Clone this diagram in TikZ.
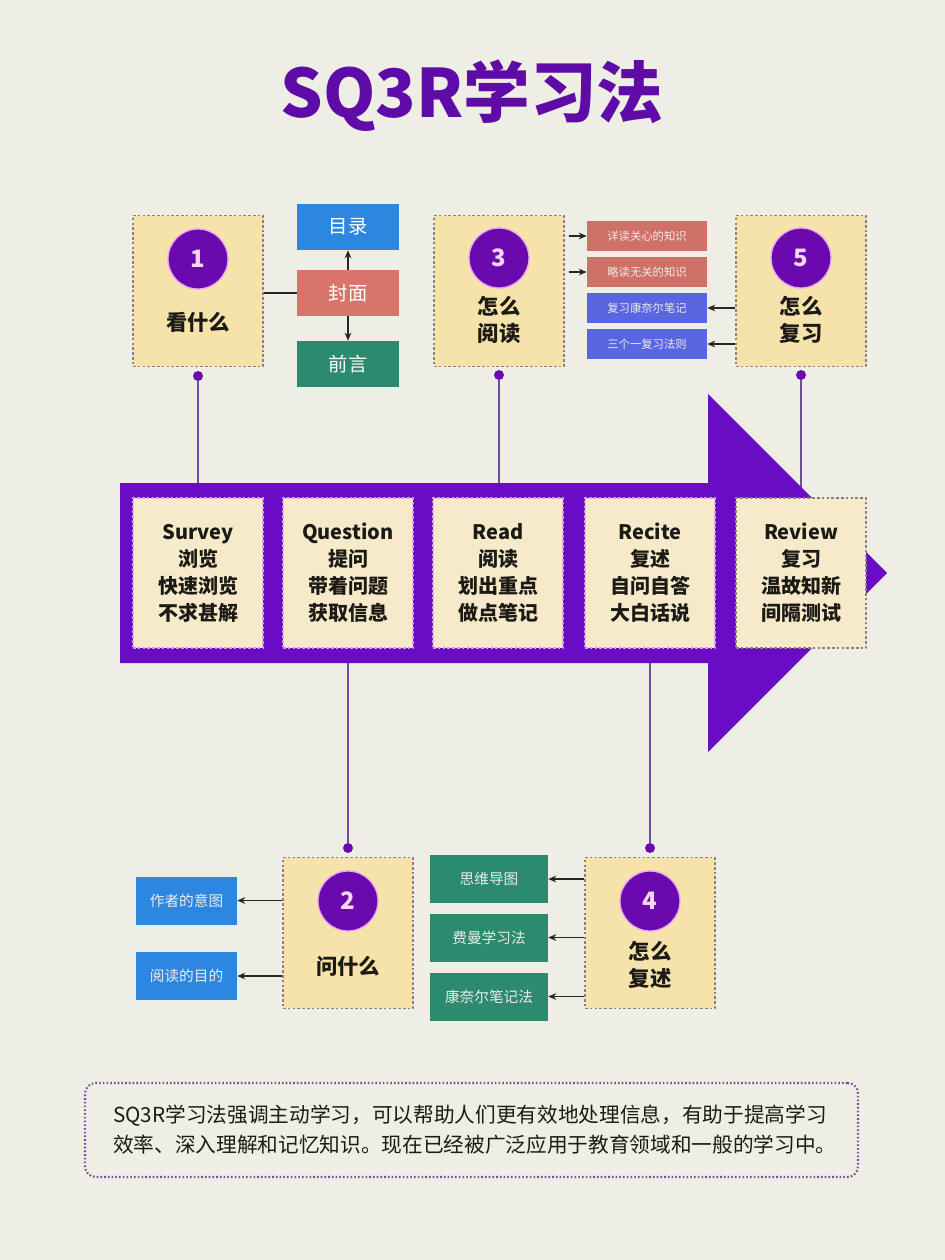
\documentclass[tikz,border=0pt]{standalone}
\usepackage{fontspec}
\setmainfont{Noto Sans CJK SC}
\usetikzlibrary{arrows.meta}
\definecolor{bg}{HTML}{EEEEE4}
\definecolor{titlepurple}{HTML}{5E0BA8}
\definecolor{arrowpurple}{HTML}{6A0BC6}
\definecolor{circpurple}{HTML}{6A0AAE}
\definecolor{boxyellow}{HTML}{F5E3AA}
\definecolor{boxcream}{HTML}{F6EACB}
\definecolor{dashgray}{HTML}{8C7F86}
\definecolor{dashpink}{HTML}{D39BE8}
\definecolor{sideblue}{HTML}{2D86DF}
\definecolor{sidered}{HTML}{D8746B}
\definecolor{sidegreen}{HTML}{2C8A6E}
\definecolor{smallred}{HTML}{CF7167}
\definecolor{smallblue}{HTML}{5A66E0}
\definecolor{linepurple}{HTML}{6E4F9E}
\definecolor{txt}{HTML}{1C1A14}
\definecolor{numtxt}{HTML}{F6D6F6}
\definecolor{circring}{HTML}{E9A6F0}
\definecolor{footline}{HTML}{6F4FA6}
\begin{document}
\begin{tikzpicture}[x=0.75pt,y=-0.75pt,
  topbox/.style={draw=dashgray, line width=1.1pt, dash pattern=on 2pt off 1.6pt, fill=boxyellow, minimum width=97.5pt, minimum height=113pt, inner sep=0pt},
  stepbox/.style={draw=dashpink, line width=1.1pt, dash pattern=on 2pt off 1.6pt, fill=boxcream, minimum width=97.5pt, minimum height=112.5pt, inner sep=0pt, align=center, text=txt, font=\bfseries\fontsize{15}{20.3}\selectfont},
  numcirc/.style={circle, fill=circpurple, draw=circring, line width=1pt, minimum size=45pt, inner sep=0pt, text=numtxt, font=\bfseries\fontsize{18}{18}\selectfont},
  lbl/.style={align=center, text=txt, inner sep=0pt, font=\bfseries\fontsize{16}{20.5}\selectfont},
  sidebox/.style={minimum width=76.5pt, minimum height=34.5pt, inner sep=0pt, text=white, font=\fontsize{14.5}{14.5}\selectfont},
  smallbox/.style={minimum width=90pt, minimum height=22.5pt, inner sep=0pt, text=white!92!black, font=\fontsize{8.5}{8.5}\selectfont},
  bluebox/.style={fill=sideblue, minimum width=75.75pt, minimum height=36pt, inner sep=0pt, text=white!92!black, font=\fontsize{11}{11}\selectfont},
  greenbox/.style={fill=sidegreen, minimum width=88.5pt, minimum height=36pt, inner sep=0pt, text=white!92!black, font=\fontsize{11}{11}\selectfont},
  dot/.style={circle, fill=circpurple, minimum size=7.5pt, inner sep=0pt},
  conn/.style={draw=linepurple, line width=1.3pt},
  blk/.style={draw=black!85, line width=1.2pt, -{Stealth[length=6pt,width=5pt]}},
]
% background
\fill[bg] (0,0) rectangle (945,1260);
\useasboundingbox (0,0) rectangle (945,1260);

% title
\node[text=titlepurple, font=\bfseries\fontsize{50}{50}\selectfont, inner sep=0pt] (title) at (472,96) {SQ3R学习法};

% connector dots
\node[dot] (d1) at (198,376) {};
\node[dot] (d3) at (499,375) {};
\node[dot] (d5) at (801,375) {};
\node[dot] (d2) at (348,848) {};
\node[dot] (d4) at (650,848) {};
\coordinate (a1) at (198,490);
\coordinate (a3) at (499,490);
\coordinate (a5) at (801,495);
\coordinate (a2) at (348,655);
\coordinate (a4) at (650,655);
\draw[conn] (d1) -- (a1);
\draw[conn] (d3) -- (a3);
\draw[conn] (d5) -- (a5);
\draw[conn] (d2) -- (a2);
\draw[conn] (d4) -- (a4);

% big arrow
\fill[arrowpurple] (120,483) -- (708,483) -- (708,394) -- (887,573) -- (708,752) -- (708,663) -- (120,663) -- cycle;

% step boxes
\node[stepbox] (s1) at (198,573) {Survey\\浏览\\快速浏览\\不求甚解};
\node[stepbox] (s2) at (348,573) {Question\\提问\\带着问题\\获取信息};
\node[stepbox] (s3) at (498,573) {Read\\阅读\\划出重点\\做点笔记};
\node[stepbox] (s4) at (650,573) {Recite\\复述\\自问自答\\大白话说};
\node[stepbox, draw=dashgray] (s5) at (801,573) {Review\\复习\\温故知新\\间隔测试};

% top boxes
\node[topbox] (t1) at (198,291) {};
\node[topbox] (t3) at (499,291) {};
\node[topbox] (t5) at (801,291) {};
\node[numcirc] (c1) at (198,259) {1};
\node[numcirc] (c3) at (499,258) {3};
\node[numcirc] (c5) at (801,258) {5};
\node[lbl] (l1) at (198,322) {看什么};
\node[lbl] (l3) at (499,320) {怎么\\阅读};
\node[lbl] (l5) at (801,320) {怎么\\复习};

% bottom boxes
\node[topbox] (b2) at (348,933) {};
\node[topbox] (b4) at (650,933) {};
\node[numcirc] (c2) at (348,901) {2};
\node[numcirc] (c4) at (650,901) {4};
\node[lbl] (l2) at (348,966) {问什么};
\node[lbl] (l4) at (650,965) {怎么\\复述};

% side boxes of 1
\node[sidebox, fill=sideblue] (m1) at (348,227) {目录};
\node[sidebox, fill=sidered] (m2) at (348,293) {封面};
\node[sidebox, fill=sidegreen] (m3) at (348,364) {前言};
\draw[draw=black!85, line width=1.2pt] (t1.east |- m2.west) -- (m2.west);
\draw[blk] (m2.north) -- (m1.south);
\draw[blk] (m2.south) -- (m3.north);

% small boxes of 3 and 5
\node[smallbox, fill=smallred] (r1) at (647,236) {详读关心的知识};
\node[smallbox, fill=smallred] (r2) at (647,272) {略读无关的知识};
\node[smallbox, fill=smallblue] (r3) at (647,308) {复习康奈尔笔记};
\node[smallbox, fill=smallblue] (r4) at (647,344) {三个一复习法则};
\draw[blk] ([xshift=3pt]t3.east |- r1.west) -- (r1.west);
\draw[blk] ([xshift=3pt]t3.east |- r2.west) -- (r2.west);
\draw[blk] (t5.west |- r3.east) -- (r3.east);
\draw[blk] (t5.west |- r4.east) -- (r4.east);

% boxes of 2
\node[bluebox] (q1) at (186.5,900.5) {作者的意图};
\node[bluebox] (q2) at (186.5,976) {阅读的目的};
\draw[blk] (b2.west |- q1.east) -- (q1.east);
\draw[blk] (b2.west |- q2.east) -- (q2.east);

% boxes of 4
\node[greenbox] (g1) at (489,879) {思维导图};
\node[greenbox] (g2) at (489,937.5) {费曼学习法};
\node[greenbox] (g3) at (489,996.5) {康奈尔笔记法};
\draw[blk] (b4.west |- g1.east) -- (g1.east);
\draw[blk] (b4.west |- g2.east) -- (g2.east);
\draw[blk] (b4.west |- g3.east) -- (g3.east);

% footer
\node[draw=footline, line width=1.6pt, dash pattern=on 1.2pt off 1.6pt, rounded corners=8pt, minimum width=579.75pt, minimum height=70.5pt, inner sep=0pt] (foot) at (471.5,1130) {};
\node[anchor=west, align=left, text=txt, inner sep=0pt, font=\fontsize{15.5}{22.5}\selectfont] (foottext) at (113,1130) {SQ3R学习法强调主动学习，可以帮助人们更有效地处理信息，有助于提高学习\\效率、深入理解和记忆知识。现在已经被广泛应用于教育领域和一般的学习中。};
\end{tikzpicture}
\end{document}
